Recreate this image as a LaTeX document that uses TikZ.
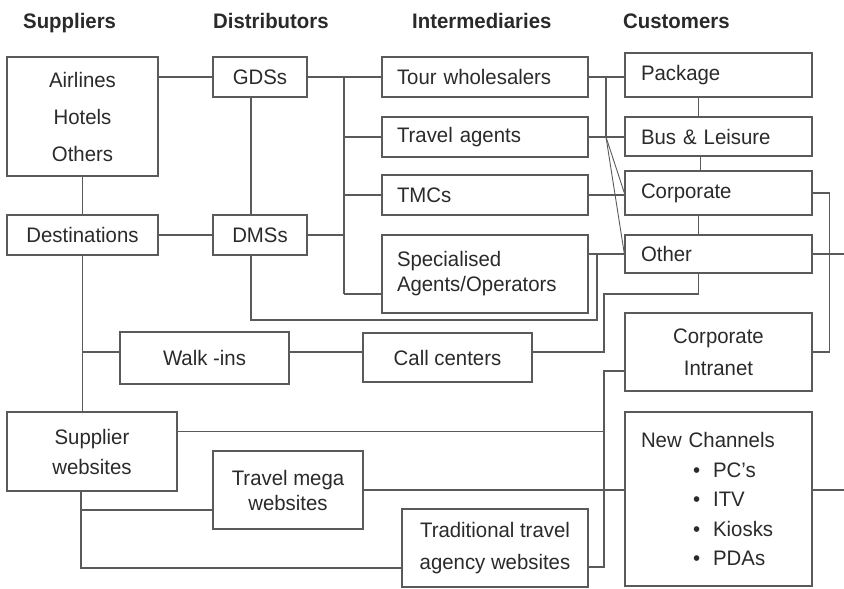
\documentclass[tikz,border=0pt]{standalone}
\usepackage{fontspec}
\setmainfont{Liberation Sans}[FakeStretch=0.97]
\usetikzlibrary{calc}
\definecolor{lc}{HTML}{5A5A5A}
\definecolor{tc}{HTML}{2A2A2A}
\tikzset{
  box/.style={draw=lc, line width=1.3pt, rectangle, inner sep=0pt, align=center, text=tc,
    font=\fontsize{21}{25}\selectfont},
  lbox/.style={box, align=left, inner xsep=15pt},
  hdr/.style={font=\bfseries\fontsize{21}{25}\selectfont, text=tc, inner sep=0pt, anchor=base west},
  conn/.style={draw=lc, line width=1.3pt},
  diag/.style={draw=lc, line width=0.9pt}
}
\begin{document}
\begin{tikzpicture}[x=1pt, y=-1pt]
\useasboundingbox (0,0) rectangle (844,589);
% headers
\node[hdr] (h1) at (23,28) {Suppliers};
\node[hdr] (h2) at (213,28) {Distributors};
\node[hdr] (h3) at (412,28) {Intermediaries};
\node[hdr] (h4) at (623,28) {Customers};
% suppliers / distributors
\node[box, minimum width=151pt, minimum height=119pt] (air) at (82.5,116.5) {Airlines\\[12pt]Hotels\\[12pt]Others};
\node[box, minimum width=94pt, minimum height=40pt] (gds) at (260,77) {GDSs};
\node[box, minimum width=151pt, minimum height=40pt] (dest) at (82.5,235) {Destinations};
\node[box, minimum width=94pt, minimum height=40pt] (dms) at (260,235) {DMSs};
% intermediaries
\node[lbox, minimum width=206pt, text width=176pt, minimum height=40pt] (tour) at (485,77) {Tour wholesalers};
\node[lbox, minimum width=206pt, text width=176pt, minimum height=40pt] (tag) at (485,137) {Travel agents};
\node[lbox, minimum width=206pt, text width=176pt, minimum height=40pt] (tmc) at (485,195) {TMCs};
\node[lbox, minimum width=206pt, text width=176pt, minimum height=78pt] (spec) at (485,274) {Specialised\\Agents/Operators};
% customers
\node[lbox, inner xsep=16pt, minimum width=187pt, text width=155pt, minimum height=44pt] (pkg) at (718.5,75) {Package};
\node[lbox, inner xsep=16pt, minimum width=187pt, text width=155pt, minimum height=39pt] (bus) at (718.5,136.5) {Bus \& Leisure};
\node[lbox, inner xsep=16pt, minimum width=187pt, text width=155pt, minimum height=44pt] (corp) at (718.5,193) {Corporate};
\node[lbox, inner xsep=16pt, minimum width=187pt, text width=155pt, minimum height=38pt] (other) at (718.5,254) {Other};
\node[box, minimum width=187pt, minimum height=78pt] (cint) at (718.5,352) {Corporate\\[7pt]Intranet};
\node[lbox, inner xsep=16pt, minimum width=187pt, text width=155pt, minimum height=174pt,
  font=\fontsize{21}{29.5}\selectfont] (newc) at (718.5,499)
  {New Channels\\
   \hspace*{52pt}\textbullet\hspace{13pt}PC's\\
   \hspace*{52pt}\textbullet\hspace{13pt}ITV\\
   \hspace*{52pt}\textbullet\hspace{13pt}Kiosks\\
   \hspace*{52pt}\textbullet\hspace{13pt}PDAs};
% lower row
\node[box, minimum width=169pt, minimum height=52pt] (walk) at (204.5,358) {Walk -ins};
\node[box, minimum width=169pt, minimum height=49pt] (call) at (447.5,357.5) {Call centers};
\node[box, minimum width=170pt, minimum height=79pt] (sup) at (92,451.5) {Supplier\\[5pt]websites};
\node[box, minimum width=150pt, minimum height=78pt] (mega) at (288,490) {Travel mega\\websites};
\node[box, minimum width=186pt, minimum height=78pt] (trad) at (495,548) {Traditional travel\\[7pt]agency websites};
% helper coordinates
\coordinate (b1) at (344,77);
\coordinate (j1) at (597,254);
\coordinate (j1b) at (597,320);
\coordinate (j2) at (606,77);
\coordinate (j2b) at (606,137);
\coordinate (j3) at (604,294);
\coordinate (edge) at (844,0);
\coordinate (sb) at ($(sup.south)+(-11,0)$);
\coordinate (specb) at ([yshift=-20pt]spec.west);
\coordinate (megab) at ([yshift=-20pt]mega.west);
\coordinate (walkl) at ([yshift=6pt]walk.west);
\coordinate (walkr) at ([yshift=6pt]walk.east);
\coordinate (cintl) at ([yshift=-19pt]cint.west);
\coordinate (tradr) at ([yshift=-19pt]trad.east);
\coordinate (supr) at ([yshift=20pt]sup.east);
\coordinate (newcr) at ([yshift=9pt]newc.east);
% suppliers/distributors connectors
\draw[conn] (air.east |- gds.west) -- (gds.west);
\draw[conn] (air.south) -- (dest.north);
\draw[conn] (dest.east) -- (dms.west);
\draw[conn] ([xshift=-9pt]gds.south) -- ([xshift=-9pt]dms.north);
\draw[conn] (gds.east) -- (tour.west);
\draw[conn] (b1) -- (b1 |- specb);
\draw[conn] (b1 |- tag.west) -- (tag.west);
\draw[conn] (b1 |- tmc.west) -- (tmc.west);
\draw[conn] (b1 |- specb) -- (specb);
\draw[conn] (dms.east) -- (b1 |- dms.east);
\draw[conn] ([xshift=-9pt]dms.south) |- (j1b) -- (j1);
% intermediaries -> customers
\draw[conn] (tour.east) -- (pkg.west |- tour.east);
\draw[conn] (j2) -- (j2b);
\draw[conn] (tag.east) -- (bus.west |- tag.east);
\draw[diag] (j2b) -- (corp.west);
\draw[diag] (j2b) -- (other.west);
\draw[conn] (tmc.east) -- (corp.west |- tmc.east);
\draw[conn] (spec.east |- other.west) -- (other.west);
% customer chain
\draw[conn] ([xshift=-20pt]pkg.south) -- ([xshift=-20pt]bus.north);
\draw[conn] ([xshift=-18pt]bus.south) -- ([xshift=-18pt]corp.north);
\draw[conn] ([xshift=-20pt]corp.south) -- ([xshift=-20pt]other.north);
\draw[conn] ([xshift=-20pt]other.south) |- (j3) |- (walkr -| call.east);
\draw[conn] (corp.east) -- ++(17,0) |- (cint.east);
\draw[conn] (other.east) -- (other.east -| edge);
\draw[conn] (newcr) -- (newcr -| edge);
% walk-ins / call centers
\draw[conn] (dest.south) -- (dest.south |- sup.north);
\draw[conn] (walkl -| dest.south) -- (walkl);
\draw[conn] (walkr) -- (walkr -| call.west);
% websites
\draw[conn] (cintl) -- (cintl -| j3) -- (tradr -| j3) -- (tradr);
\draw[conn] (supr) -- (supr -| j3);
\draw[conn] (mega.east) -- (newc.west |- mega.east);
\draw[conn] (sb) |- ([yshift=-20pt]trad.west);
\draw[conn] (sb |- megab) -- (megab);
\end{tikzpicture}
\end{document}
